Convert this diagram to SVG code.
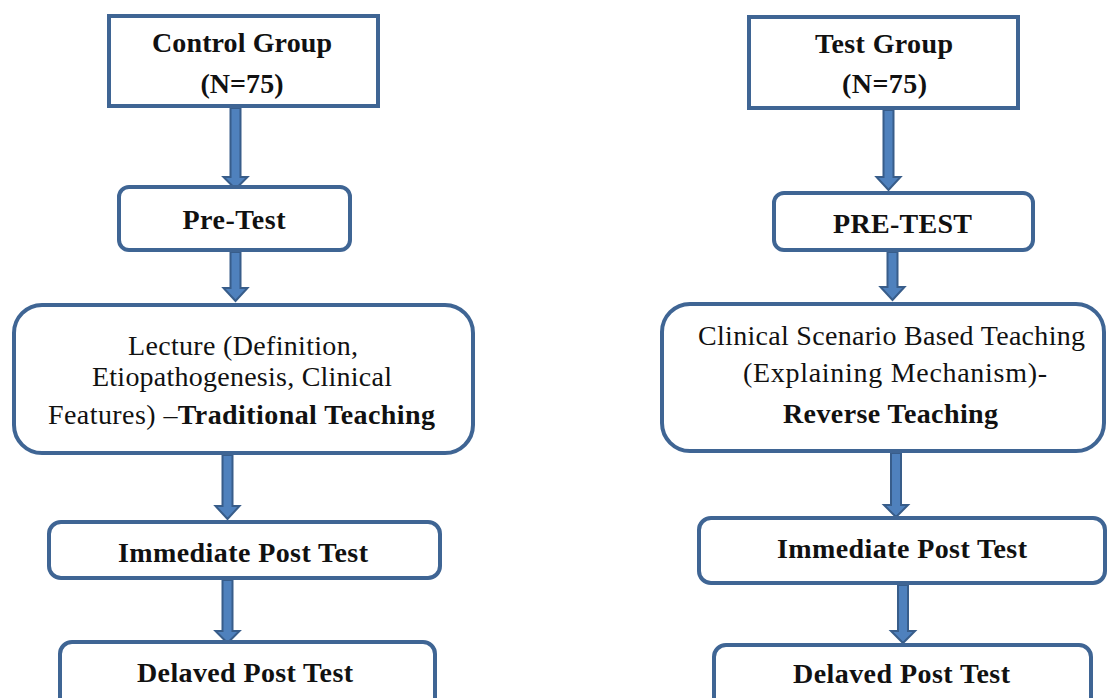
<svg xmlns="http://www.w3.org/2000/svg" width="1108" height="698" viewBox="0 0 1108 698">
<style>
.box{fill:#fff;stroke:#3F6594;stroke-width:4}
.arr{fill:#4F81BD;stroke:#385D8A;stroke-width:2;stroke-linejoin:miter}
text{font-family:"Liberation Serif","Times New Roman",serif;font-size:28px;fill:#111;text-anchor:middle}
.b{font-weight:bold}
</style>
<rect width="1108" height="698" fill="#fff"/>
<g id="connectors">
<polygon class="arr" points="230.5,108 240.5,108 240.5,177 247.5,177 235.5,189 223.5,177 230.5,177"/>
<polygon class="arr" points="230.5,252 240.5,252 240.5,288 247.5,288 235.5,301 223.5,288 230.5,288"/>
<polygon class="arr" points="222.5,455 232.5,455 232.5,506 239.5,506 227.5,519 215.5,506 222.5,506"/>
<polygon class="arr" points="222.5,580 232.5,580 232.5,631 239.5,631 227.5,643 215.5,631 222.5,631"/>
<polygon class="arr" points="883.5,110 893.5,110 893.5,177 900.5,177 888.5,190 876.5,177 883.5,177"/>
<polygon class="arr" points="887.5,252 897.5,252 897.5,287 904.5,287 892.5,300 880.5,287 887.5,287"/>
<polygon class="arr" points="891,453 901,453 901,505 908,505 896,517 884,505 891,505"/>
<polygon class="arr" points="898,585 908,585 908,631 915,631 903,643 891,631 898,631"/>
</g>
<g id="control-group">
<rect class="box" x="109" y="16" width="269" height="90"/>
<text class="b" x="242" y="52" textLength="180">Control Group</text>
<text class="b" x="242" y="93" textLength="83">(N=75)</text>
</g>
<g id="pre-test-left">
<rect class="box" x="119" y="187" width="231" height="63" rx="10"/>
<text class="b" x="234" y="229" textLength="103">Pre-Test</text>
</g>
<g id="lecture">
<rect class="box" x="14" y="305" width="459" height="148" rx="28"/>
<text x="243" y="355" textLength="230">Lecture (Definition,</text>
<text x="242" y="386" textLength="300">Etiopathogenesis, Clinical</text>
<text x="241.5" y="424" textLength="387">Features) –<tspan class="b">Traditional Teaching</tspan></text>
</g>
<g id="immediate-left">
<rect class="box" x="49" y="522" width="391" height="56" rx="12"/>
<text class="b" x="243" y="562" textLength="250">Immediate Post Test</text>
</g>
<g id="delayed-left">
<rect class="box" x="60" y="642" width="375" height="80" rx="12"/>
<text class="b" x="245" y="682" textLength="216">Delaved Post Test</text>
</g>
<g id="test-group">
<rect class="box" x="749" y="17" width="269" height="91"/>
<text class="b" x="884" y="53" textLength="138">Test Group</text>
<text class="b" x="884.5" y="93" textLength="85">(N=75)</text>
</g>
<g id="pre-test-right">
<rect class="box" x="774" y="193" width="259" height="57" rx="10"/>
<text class="b" x="902.5" y="233" textLength="139">PRE-TEST</text>
</g>
<g id="clinical">
<rect class="box" x="662" y="304" width="442" height="147" rx="28"/>
<text x="891.5" y="345" textLength="387">Clinical Scenario Based Teaching</text>
<text x="895" y="382" textLength="304">(Explaining Mechanism)-</text>
<text class="b" x="890.5" y="423" textLength="215">Reverse Teaching</text>
</g>
<g id="immediate-right">
<rect class="box" x="699" y="518" width="406" height="65" rx="12"/>
<text class="b" x="902" y="558" textLength="250">Immediate Post Test</text>
</g>
<g id="delayed-right">
<rect class="box" x="714" y="645" width="377" height="80" rx="12"/>
<text class="b" x="901.5" y="683" textLength="217">Delaved Post Test</text>
</g>
</svg>
